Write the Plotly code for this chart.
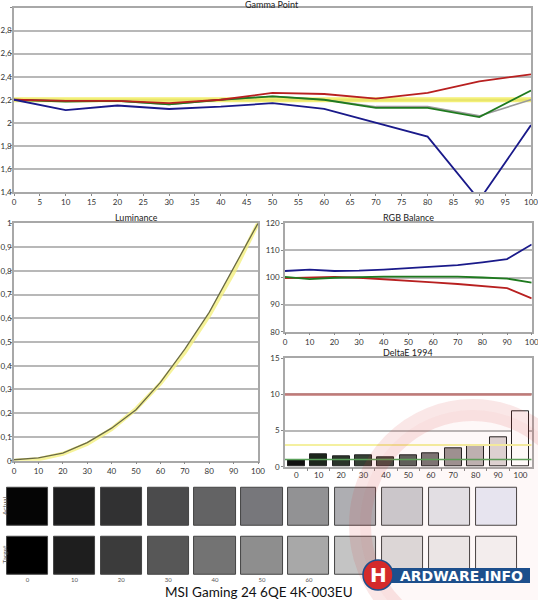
import plotly.graph_objects as go

W, H = 538, 600
def X(px): return px / W
def Y(py): return 1 - py / H

# ---------------- data ----------------
levels = [0, 10, 20, 30, 40, 50, 60, 70, 80, 90, 100]
level_labels = ["0", "10", "20", "30", "40", "50", "60", "70", "80", "90", "100"]
swatch_labels = ["0", "10", "20", "30", "40", "50", "60", "", "", "", ""]

gamma_red = [2.20, 2.19, 2.19, 2.17, 2.20, 2.26, 2.25, 2.21, 2.26, 2.36, 2.42]
gamma_green = [2.20, 2.185, 2.19, 2.16, 2.20, 2.23, 2.20, 2.13, 2.13, 2.05, 2.28]
gamma_gray = [2.20, 2.19, 2.19, 2.16, 2.20, 2.23, 2.20, 2.14, 2.14, 2.06, 2.20]
gamma_blue = [2.20, 2.11, 2.15, 2.12, 2.14, 2.17, 2.12, 2.00, 1.88, 1.33, 1.98]
gamma_target = [2.2, 2.2, 2.2, 2.2, 2.2, 2.2, 2.2, 2.2, 2.2, 2.2, 2.2]

lum_measured = [0.004, 0.012, 0.032, 0.076, 0.137, 0.215, 0.33, 0.47, 0.625, 0.81, 1.0]
lum_target = [0.0, 0.006, 0.029, 0.071, 0.133, 0.218, 0.325, 0.456, 0.612, 0.793, 1.0]

rgb_red = [99.8, 100.0, 100.2, 99.9, 99.4, 98.8, 98.2, 97.6, 96.9, 96.1, 92.3]
rgb_green = [100.2, 99.4, 99.9, 100.2, 100.3, 100.3, 100.3, 100.3, 100.0, 99.6, 98.1]
rgb_blue = [102.4, 102.9, 102.4, 102.5, 102.9, 103.4, 104.0, 104.6, 105.6, 106.8, 112.2]

deltae = [0.92, 1.7, 1.38, 1.6, 1.3, 1.6, 1.9, 2.5, 3.0, 4.0, 7.66]
deltae_colors = ["#121212", "#1c261c", "#2a342a", "#354035", "#444c44", "#5c605c",
                 "#7a7676", "#9c9494", "#bdb5b5", "#ddd6d6", "#ffffff"]
deltae_limits = [10, 3, 1]

swatch_actual = ["#050505", "#1c1c1d", "#313132", "#4b4b4c", "#636364", "#77777b",
                 "#929294", "#aeaeb2", "#cbccd0", "#e2e5ea", "#e8ebf6"]
swatch_target = ["#000000", "#1e1e1e", "#3b3b3b", "#575757", "#737373", "#8e8e8e",
                 "#a8a8a8", "#c4c4c4", "#dcdcdc", "#ececec", "#f4f4f4"]

title_text = "MSI Gaming 24 6QE 4K-003EU"

# ---------------- figure ----------------
fig = go.Figure()
FONT = "Lato, Open Sans, DejaVu Sans, sans-serif"
TICKF = dict(family=FONT, size=8, color="#333333")
GRID = "#b8b8b8"
LINEC = "#a8a8a8"

def add_line(x, y, color, width, xa, ya, opacity=1.0):
    fig.add_trace(go.Scatter(x=x, y=y, mode="lines", line=dict(color=color, width=width),
                             opacity=opacity, xaxis=xa, yaxis=ya, showlegend=False,
                             hoverinfo="skip"))

# Gamma point
add_line(levels, gamma_target, "#f2ee60", 5, "x", "y", 0.85)
add_line(levels, gamma_gray, "#9a9a9a", 1.6, "x", "y")
add_line(levels, gamma_green, "#1f7a1f", 1.8, "x", "y")
add_line(levels, gamma_red, "#b82020", 1.8, "x", "y")
add_line(levels, gamma_blue, "#1a1a8a", 1.8, "x", "y")

# Luminance
add_line(levels, lum_target, "#f4f080", 4, "x2", "y2", 0.8)
add_line(levels, lum_measured, "#6a6a45", 1.3, "x2", "y2")

# RGB balance
add_line(levels, rgb_red, "#b82020", 1.8, "x3", "y3")
add_line(levels, rgb_green, "#1f7a1f", 1.8, "x3", "y3")
add_line(levels, rgb_blue, "#1a1a8a", 1.8, "x3", "y3")

# DeltaE
fig.add_trace(go.Bar(x=levels, y=deltae, width=7.6, marker=dict(color=deltae_colors,
                     line=dict(color="#222222", width=1)), xaxis="x4", yaxis="y4",
                     showlegend=False, hoverinfo="skip"))
lim_colors = ["#c07a78", "#f4f0a0", "#5aa05a"]
lim_widths = [2.5, 2, 1.5]
for v, c, w in zip(deltae_limits, lim_colors, lim_widths):
    add_line([-5, 105], [v, v], c, w, "x4", "y4")

# Swatches
fig.add_trace(go.Bar(x=levels, y=[0.78] * 11, base=[0.61] * 11, width=8.8,
                     marker=dict(color=swatch_actual, line=dict(color="#444444", width=1)),
                     xaxis="x5", yaxis="y5", showlegend=False, hoverinfo="skip"))
fig.add_trace(go.Bar(x=levels, y=[0.78] * 11, base=[-0.39] * 11, width=8.8,
                     marker=dict(color=swatch_target, line=dict(color="#444444", width=1)),
                     xaxis="x5", yaxis="y5", showlegend=False, hoverinfo="skip"))

def axstyle(**kw):
    d = dict(showline=True, linecolor=LINEC, linewidth=1.5, mirror=True,
             ticks="outside", ticklen=2, tickcolor="#888888", tickfont=TICKF,
             gridcolor=GRID, gridwidth=1.5, zeroline=False, fixedrange=True,
             automargin=False, ticklabelstandoff=0, ticklabeloverflow="allow")
    d.update(kw)
    return d

layout = dict(
    width=W, height=H, margin=dict(l=0, r=0, t=0, b=0, autoexpand=False),
    paper_bgcolor="white", plot_bgcolor="white", separators=",.",
    barmode="overlay", bargap=0,
    xaxis=axstyle(domain=[X(14), X(531)], range=[0, 100], tickmode="array",
                  tickvals=list(range(0, 101, 5)), showgrid=False, anchor="y"),
    yaxis=axstyle(domain=[Y(192), Y(7.5)], range=[1.4, 3.0], tickmode="array",
                  tickvals=[1.4, 1.6, 1.8, 2.0, 2.2, 2.4, 2.6, 2.8, 3.0],
                  ticktext=["1,4", "1,6", "1,8", "2", "2,2", "2,4", "2,6", "2,8", ""],
                  anchor="x", ticklabelstandoff=-3),
    xaxis2=axstyle(domain=[X(14), X(258)], range=[0, 100], tickmode="array",
                   tickvals=levels, showgrid=False, anchor="y2"),
    yaxis2=axstyle(domain=[Y(460.7), Y(223.3)], range=[0, 1], dtick=0.1, anchor="x2",
                   ticklabelstandoff=-3),
    xaxis3=axstyle(domain=[X(285), X(531.7)], range=[0, 100], tickmode="array",
                   tickvals=levels, showgrid=False, anchor="y3"),
    yaxis3=axstyle(domain=[Y(331.7), Y(223.3)], range=[80, 120], dtick=10, anchor="x3"),
    xaxis4=axstyle(domain=[X(285), X(531.7)], range=[-5, 105], tickmode="array",
                   tickvals=levels, ticktext=level_labels, ticks="", showgrid=False,
                   minor=dict(tickvals=[5, 15, 25, 35, 45, 55, 65, 75, 85, 95],
                              ticks="outside", ticklen=3, tickcolor="#888888",
                              showgrid=False),
                   anchor="y4"),
    yaxis4=axstyle(domain=[Y(466.7), Y(358.3)], range=[0, 15], dtick=5, anchor="x4"),
    xaxis5=dict(domain=[X(4.05), X(519.95)], range=[-5, 105], tickmode="array",
                tickvals=levels, ticktext=swatch_labels, showline=False, showgrid=False,
                zeroline=False, ticks="", tickfont=dict(family=FONT, size=6, color="#555555"),
                anchor="y5", fixedrange=True, automargin=False, ticklabelstandoff=0),
    yaxis5=dict(domain=[Y(575), Y(482.75)], range=[-0.4, 1.5], tickmode="array",
                tickvals=[0, 1], ticktext=["Target", "Actual"], tickangle=-90,
                showline=False, showgrid=False, zeroline=False, ticks="",
                tickfont=dict(family=FONT, size=6.5, color="#555555"),
                anchor="x5", fixedrange=True, automargin=False, ticklabelstandoff=-5,
                ticklabeloverflow="allow"),
)
fig.update_layout(**layout)

# chart titles
for txt, cx, cy in [("Gamma Point", 272, 4), ("Luminance", 136, 217),
                    ("RGB Balance", 408, 217), ("DeltaE 1994", 408, 352)]:
    fig.add_annotation(text=txt, x=X(cx), y=Y(cy), xref="paper", yref="paper",
                       showarrow=False, font=dict(family=FONT, size=9, color="#222222"),
                       xanchor="center", yanchor="middle", height=9)

# main title
fig.add_annotation(text=title_text, x=X(259), y=Y(591.5), xref="paper", yref="paper",
                   showarrow=False, font=dict(family=FONT, size=13.5, color="#111111"),
                   xanchor="center", yanchor="middle", height=14, valign="middle")

# watermark (faint) and logo
shapes = [
    dict(type="circle", xref="paper", yref="paper", x0=X(360), x1=X(585), y0=Y(640), y1=Y(410),
         line=dict(color="rgba(215,60,60,0.12)", width=22), fillcolor="rgba(215,60,60,0.035)",
         layer="above"),
    dict(type="rect", xref="paper", yref="paper", x0=X(370), x1=X(530), y0=Y(583), y1=Y(568),
         fillcolor="#1d4f8c", line=dict(width=0), layer="above"),
    dict(type="circle", xref="paper", yref="paper", x0=X(363), x1=X(393), y0=Y(590), y1=Y(560),
         fillcolor="#d42a2a", line=dict(color="#1d4f8c", width=1.5), layer="above"),
]
fig.update_layout(shapes=shapes)
fig.add_annotation(text="<b>H</b>", x=X(378), y=Y(575), xref="paper", yref="paper",
                   showarrow=False, font=dict(family="DejaVu Sans, sans-serif", size=20,
                                              color="white"),
                   xanchor="center", yanchor="middle")
fig.add_annotation(text="<b>ARDWARE.INFO</b>", x=X(461), y=Y(575.5), xref="paper", yref="paper",
                   showarrow=False, font=dict(family="DejaVu Sans, sans-serif", size=14,
                                              color="white"),
                   xanchor="center", yanchor="middle")

fig.write_html("out.html", config={"displayModeBar": False},
               post_script="document.body.style.margin='0';document.body.style.padding='0';"
                           "document.body.style.overflow='hidden';")
